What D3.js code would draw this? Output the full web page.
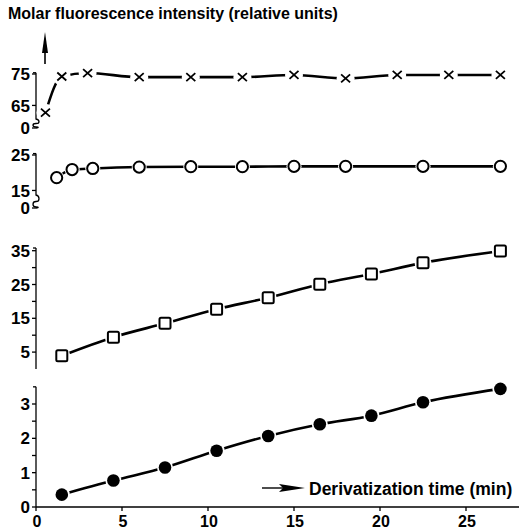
<!DOCTYPE html>
<html>
<head>
<meta charset="utf-8">
<script src="https://cdn.jsdelivr.net/npm/d3@7"></script>
<style>
  body { margin: 0; background: #fff; }
  svg { display: block; }
  text { font-family: "Liberation Sans", Arial, sans-serif; font-weight: bold; fill: #000; }
</style>
</head>
<body>
<svg></svg>
<script>
const [WIDTH, HEIGHT] = [519, 531]

// derivatization time (min) and molar fluorescence (relative units)
const timesCross = [0.55, 1.5, 3, 6, 9, 12, 15, 18, 21, 24, 27]
const valuesCross = [62.7, 74.2, 75.3, 74, 74, 74, 74.7, 73.6, 74.7, 74.7, 74.7]
const timesRing = [1.2, 2.1, 3.3, 6, 9, 12, 15, 18, 22.5, 27]
const valuesRing = [18.6, 20.9, 21.2, 21.6, 21.7, 21.7, 21.8, 21.8, 21.8, 21.8]
const timesSquare = [1.5, 4.5, 7.5, 10.5, 13.5, 16.5, 19.5, 22.5, 27]
const valuesSquare = [3.9, 9.4, 13.5, 17.7, 21.1, 25.1, 28.1, 31.4, 34.9]
const timesDot = [1.5, 4.5, 7.5, 10.5, 13.5, 16.5, 19.5, 22.5, 27]
const valuesDot = [0.36, 0.77, 1.15, 1.64, 2.07, 2.41, 2.66, 3.05, 3.44]

const xTicks = [0, 5, 10, 15, 20, 25]
const ticksCross = [0, 65, 75]
const ticksRing = [0, 15, 25]
const ticksSquare = [5, 15, 25, 35]
const minorSquare = [10, 20, 30]
const ticksDot = [0, 1, 2, 3]
const minorDot = [0.5, 1.5, 2.5]

const titleText = "Molar fluorescence intensity (relative units)"
const xLabelText = "Derivatization time (min)"

const svg = d3.select("svg")
    .attr("viewBox", "0 0 " + WIDTH + " " + HEIGHT)
    .attr("width", WIDTH)
    .attr("height", HEIGHT)

const x = d3.scaleLinear().domain([0, 25]).range([36, 466])
const X0 = x(0)

// each panel has its own y scale; the two upper ones are broken just above zero
const panels = [
    { times: timesCross, values: valuesCross, marker: 'cross', ticks: ticksCross, minor: [],
      y: d3.scaleLinear().domain([0, 61, 75]).range([128, 118, 74]), top: 75.4, brk: [0, 61] },
    { times: timesRing, values: valuesRing, marker: 'ring', ticks: ticksRing, minor: [],
      y: d3.scaleLinear().domain([0, 14, 25]).range([208, 194, 155]), top: 25.4, brk: [0, 14] },
    { times: timesSquare, values: valuesSquare, marker: 'square', ticks: ticksSquare, minor: minorSquare,
      y: d3.scaleLinear().domain([0, 35]).range([369, 250.7]), top: 35.8, brk: null },
    { times: timesDot, values: valuesDot, marker: 'dot', ticks: ticksDot, minor: minorDot,
      y: d3.scaleLinear().domain([0, 3]).range([507, 404]), top: 3.5, brk: null }
]

svg.append("text")
    .attr("x", 8).attr("y", 19)
    .attr("font-size", 16)
    .text(titleText)

// vertical arrow next to the top axis
svg.append("line")
    .attr("x1", X0 + 9).attr("x2", X0 + 9)
    .attr("y1", 50).attr("y2", 64)
    .attr("stroke", "#000").attr("stroke-width", 1.6)
svg.append("path")
    .attr("d", `M${X0 + 9},32 L${X0 + 12},53 L${X0 + 6},53 Z`)
    .attr("fill", "#000")

const line = d3.line().curve(d3.curveMonotoneX)

panels.forEach(p => {
    const g = svg.append("g")
    const y = p.y
    const yTop = y(p.top)

    // axis line (with a squiggle where it is broken)
    let d
    if (p.brk) {
        const a = y(p.brk[1]) + 1, b = y(p.brk[0])
        const m = (a + b) / 2
        d = `M${X0},${yTop} L${X0},${a} C${X0 + 4},${a + 1} ${X0 + 4},${m} ${X0},${m} ` +
            `C${X0 - 4},${m} ${X0 - 4},${b - 1} ${X0},${b - 1} C${X0 + 3},${b - 1} ${X0 + 3},${b} ${X0},${b}`
    } else {
        d = `M${X0},${yTop} L${X0},${y(0)}`
    }
    g.append("path").attr("d", d).attr("fill", "none")
        .attr("stroke", "#000").attr("stroke-width", 1.3)

    // top end cap
    g.append("line").attr("x1", X0 - 3).attr("x2", X0).attr("y1", yTop).attr("y2", yTop)
        .attr("stroke", "#000").attr("stroke-width", 1.3)

    g.selectAll(".tick").data(p.ticks.concat(p.minor)).join("line")
        .attr("x1", X0 - 4).attr("x2", X0)
        .attr("y1", v => y(v)).attr("y2", v => y(v))
        .attr("stroke", "#000").attr("stroke-width", 1.3)

    g.selectAll(".lab").data(p.ticks).join("text")
        .attr("x", X0 - 6).attr("y", v => y(v))
        .attr("dy", "0.36em")
        .attr("text-anchor", "end")
        .attr("font-size", 17)
        .text(v => v)

    const pts = p.times.map((t, i) => [x(t), y(p.values[i])])

    g.append("path")
        .attr("d", line(pts))
        .attr("fill", "none")
        .attr("stroke", "#000")
        .attr("stroke-width", 2.6)

    // white halos open small gaps in the line around each marker
    const halo = { cross: 9, ring: 7.5, square: 8.5, dot: 8 }[p.marker]
    g.selectAll(".halo").data(pts).join("circle")
        .attr("cx", d => d[0]).attr("cy", d => d[1])
        .attr("r", halo).attr("fill", "#fff")

    const m = g.selectAll(".mk").data(pts).join("g")
        .attr("transform", d => `translate(${d[0]},${d[1]})`)
    if (p.marker === 'cross') {
        m.append("path").attr("d", "M-4.5,-4 L4.5,4 M-4.5,4 L4.5,-4")
            .attr("stroke", "#000").attr("stroke-width", 1.8).attr("fill", "none")
    } else if (p.marker === 'ring') {
        m.append("circle").attr("r", 5.6)
            .attr("fill", "#fff").attr("stroke", "#000").attr("stroke-width", 2)
    } else if (p.marker === 'square') {
        m.append("rect").attr("x", -5.5).attr("y", -5.5).attr("width", 11).attr("height", 11)
            .attr("rx", 1.5)
            .attr("fill", "#fff").attr("stroke", "#000").attr("stroke-width", 2)
    } else {
        m.append("circle").attr("r", 6.3).attr("fill", "#000")
    }
})

// x axis
const yBase = panels[3].y(0)
const xg = svg.append("g")
xg.append("line").attr("x1", X0).attr("x2", WIDTH).attr("y1", yBase).attr("y2", yBase)
    .attr("stroke", "#000").attr("stroke-width", 1.5)
xg.selectAll(".xt").data(xTicks).join("line")
    .attr("x1", v => x(v)).attr("x2", v => x(v))
    .attr("y1", yBase).attr("y2", yBase + 4)
    .attr("stroke", "#000").attr("stroke-width", 1.3)
xg.selectAll(".xl").data(xTicks).join("text")
    .attr("x", v => x(v) + 1).attr("y", yBase + 20)
    .attr("text-anchor", "middle")
    .attr("font-size", 16)
    .text(v => v)

// x axis legend arrow
const ly = 488
svg.append("line").attr("x1", 262).attr("x2", 284).attr("y1", ly).attr("y2", ly)
    .attr("stroke", "#000").attr("stroke-width", 1.4)
svg.append("path")
    .attr("d", `M279,${ly - 4} L305,${ly} L279,${ly + 4} L283,${ly} Z`)
    .attr("fill", "#000")
svg.append("text")
    .attr("x", 309).attr("y", ly + 6.5)
    .attr("font-size", 17.5)
    .text(xLabelText)
</script>
</body>
</html>
